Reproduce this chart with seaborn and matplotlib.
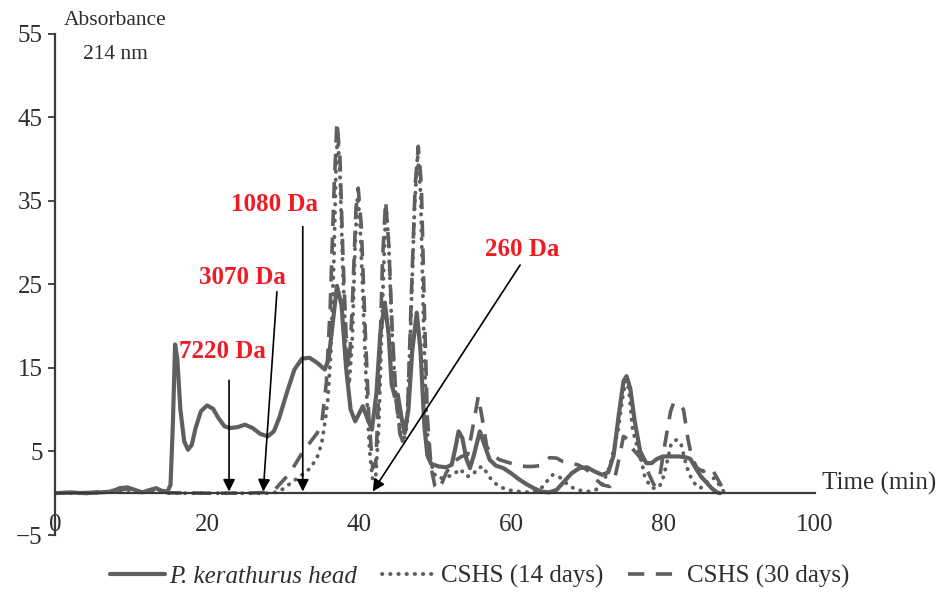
import numpy as np
import pandas as pd
import matplotlib
matplotlib.use("Agg")
import matplotlib.pyplot as plt
import seaborn as sns

# Chromatogram values (time in min, absorbance)
head_t = [0, 2, 4, 6, 7.5, 8.5, 9.5, 10.5, 11.5, 12.5, 13.3, 14, 14.8, 15.2, 15.5, 15.8, 16.1, 16.5,
          17, 17.5, 18, 18.5, 19.2, 20, 20.8, 21.5, 22.3, 23, 24, 25, 26, 27, 28, 28.8, 29.5, 30.5,
          31.5, 32.5, 33.5, 34.5, 35.5, 36, 36.5, 37.1, 37.7, 38.3, 38.9, 39.5, 40, 40.5, 41, 41.7,
          42.3, 42.8, 43.4, 43.9, 44.3, 44.7, 45.1, 45.6, 46, 46.5, 47, 47.6, 48.1, 48.6, 49, 49.5,
          50.5, 51.5, 52.2, 52.7, 53.1, 53.6, 54.1, 54.6, 55.1, 55.9, 56.5, 57.2, 58, 59, 60, 61,
          62, 63, 64, 65, 66, 67, 68, 69, 70, 71, 72, 72.8, 73.5, 74.2, 74.8, 75.2, 75.7, 76.3, 77,
          77.8, 78.5, 79.2, 80, 81, 82, 83, 83.6, 84.3, 85, 85.7, 86.4, 87.1, 87.5]
head_a = [0, 0.1, 0, 0.1, 0.2, 0.6, 0.7, 0.4, 0.1, 0.4, 0.6, 0.3, 0.2, 1, 8, 17.8, 16, 10,
          6.2, 5.2, 5.8, 7.8, 9.8, 10.5, 10.1, 9, 8.0, 7.8, 7.9, 8.2, 7.8, 7.1, 6.8, 7.4, 9, 12,
          14.8, 16.1, 16.2, 15.6, 14.8, 16, 20, 24.8, 22.5, 15, 10, 8.6, 9.5, 10.4, 9.2, 7.6,
          12, 19, 22.8, 19, 13, 11.6, 11.8, 9, 7.2, 10, 17, 21.6, 17, 8, 4.5, 3.5,
          3.2, 3.1, 3.4, 5.5, 7.4, 6.6, 4.2, 3.0, 4.5, 7.4, 5.8, 4.0, 3.3, 3.0, 2.4, 1.7,
          1.1, 0.6, 0.2, 0.1, 0.4, 1.4, 2.4, 3.0, 3.1, 2.6, 2.2, 2.5, 4.5, 9.5, 13.4, 14.0, 12.5, 8.5, 5,
          3.6, 3.6, 4.1, 4.4, 4.4, 4.4, 4.3, 4.1, 3.0, 2.0, 1.3, 0.6, 0.1, 0]

d14_t = [0, 5, 8.5, 9.5, 11, 13, 15, 20, 25, 28, 29, 30, 31.3, 32.5, 33.6, 34.5, 35.1, 35.6, 35.9,
         36.3, 36.7, 37.0, 37.2, 37.5, 37.9, 38.3, 38.7, 39.1, 39.5, 39.8, 40.1, 40.5, 41, 41.4,
         41.8, 42.2, 42.6, 43, 43.4, 43.6, 43.9, 44.3, 44.8, 45.3, 45.8, 46.3, 46.8, 47.3, 47.7,
         48.1, 48.5, 48.9, 49.3, 49.8, 50.2, 51, 52.4, 53.3, 54.2, 55, 55.6, 56.3, 56.9, 57.6,
         58.5, 59.5, 61, 62.5, 63.5, 64.2, 64.7, 65.5, 66.3, 67, 67.8, 68.7, 70, 71, 72, 73, 74.1,
         74.7, 75.1, 75.5, 76, 77.3, 77.6, 78.2, 78.7, 79.5, 80, 80.5, 81.1, 81.8, 82.4, 83.1,
         83.8, 84.4, 84.9, 85.5, 86.2, 86.8, 87.4, 88]
d14_a = [0, 0, 0.3, 0.4, 0.1, 0.3, 0, 0, 0, 0, 0.1, 0.5, 1.4, 2.2, 3.0, 4.3, 6, 9, 11.2,
         17, 28, 40, 43, 38, 26, 17, 13, 18, 30, 35.5, 33, 24, 12, 5,
         1.6, 2, 8, 20, 31, 34, 30, 20, 12, 8, 6, 8, 20, 34, 40.5,
         36, 20, 8, 4.4, 2.5, 1.9, 1.8, 2.2, 2.9, 2.0, 2.2, 3.0, 3.2, 2.3, 1.4,
         0.8, 0.4, 0.2, 0.1, 0.3, 0.8, 1.4, 2.2, 2.0, 1.4, 0.8, 0.4, 0.2, 0.3, 1.0, 3.2, 7.6,
         11.5, 13.5, 12.5, 7.6, 3.3, 2, 1.0, 0.6, 0.7, 1.8, 3.6, 6, 6.4, 5.8, 3.2,
         1.6, 0.9, 0.6, 1.0, 1.7, 1.8, 1.0, 0.2]

d30_t = [0, 5, 8.5, 9.5, 11, 13, 15, 20, 25, 28, 29, 30.5, 31.5, 32.5, 33.5, 34.5, 35.1, 35.7,
         36.2, 36.7, 37.1, 37.5, 37.9, 38.3, 38.7, 39.1, 39.6, 39.9, 40.3, 40.8, 41.3, 41.8, 42.2,
         42.6, 43.1, 43.5, 43.9, 44.4, 44.9, 45.4, 45.9, 46.4, 46.9, 47.4, 47.8, 48.2, 48.6, 49,
         49.5, 50, 50.4, 50.9, 51.5, 52.5, 53.5, 54.3, 55, 55.7, 56.3, 56.8, 57.5, 58.5, 59.9, 61,
         62, 62.9, 63.8, 64.5, 65.1, 66, 66.8, 67.8, 68.8, 70, 71, 72, 73, 73.7, 74.3, 74.8, 75.3,
         75.9, 76.5, 77.2, 78, 78.8, 79.5, 80, 80.5, 81, 81.4, 82, 82.7, 83.3, 83.8, 84.5, 85.3,
         86, 86.4, 87, 87.5, 88]
d30_a = [0, 0.1, 0.4, 0.5, 0.1, 0.3, 0.05, 0, 0, 0.1, 0.5, 2.0, 3.3, 4.8, 6, 7.2, 8.4, 13.2,
         22, 36, 44.5, 40, 28, 19, 15, 22, 34, 36.5, 32, 20, 9, 3, 3.5,
         12, 28, 35, 30, 19, 11, 7, 6, 10, 24, 37, 41.5, 37, 22, 9,
         3, 0.8, 0.4, 1.2, 2.5, 3.8, 4.4, 4.6, 8, 11.6, 8.5, 5.6, 4.6, 4.0, 3.6, 3.3,
         3.2, 3.2, 3.3, 3.9, 4.25, 4.2, 3.8, 3.6, 3.4, 2.8, 1.8, 1.0, 0.8, 2, 4.5, 6.8, 6.5,
         5.4, 4.8, 4.0, 2.6, 1.0, 1.5, 4.5, 7.2, 9.8, 10.8, 10.8, 10, 6.4, 4.2, 3, 2.6,
         3.0, 3.0, 2, 1.2, 0.3]

series_labels = ["P. kerathurus head", "CSHS (14 days)", "CSHS (30 days)"]

# molecular weight markers: label, text position, arrow start, arrow end
mw_labels = ["7220 Da", "3070 Da", "1080 Da", "260 Da"]
mw_text_xy = [(22.0, 16.9), (24.6, 25.8), (28.9, 34.5), (61.5, 29.1)]
mw_arrow_from = [(22.9, 13.5), (29.2, 24.1), (32.6, 31.9), (61.2, 27.3)]
mw_arrow_to = [(22.9, 0.2), (27.4, 0.2), (32.6, 0.2), (41.8, 0.2)]

sns.set_style("white")
plt.rcParams["font.family"] = ["Liberation Serif", "DejaVu Serif"]

line_color = "#5f5f5f"
axis_color = "#3a3a3a"
text_color = "#2e2e2e"

fig = plt.figure(figsize=(9.41, 5.92), dpi=100)
ax = fig.add_axes([55 / 941, 57 / 592, 760 / 941, 501.5 / 592])

sns.lineplot(x=head_t, y=head_a, ax=ax, color=line_color, linewidth=3.0,
             label=series_labels[0], estimator=None, sort=False)
sns.lineplot(x=d14_t, y=d14_a, ax=ax, color=line_color, linewidth=2.8,
             linestyle=(0, (0.1, 2.0)), dash_capstyle="round",
             label=series_labels[1], estimator=None, sort=False)
sns.lineplot(x=d30_t, y=d30_a, ax=ax, color=line_color, linewidth=2.6,
             linestyle=(0, (4.5, 3.2)),
             label=series_labels[2], estimator=None, sort=False)

ax.set_xlim(0, 100)
ax.set_ylim(-5, 55)
ax.set_xlabel("")
ax.set_ylabel("")

for side in ["top", "right"]:
    ax.spines[side].set_visible(False)
ax.spines["bottom"].set_position(("data", 0))
for side in ["left", "bottom"]:
    ax.spines[side].set_color(axis_color)
    ax.spines[side].set_linewidth(1.6)

ax.set_xticks(np.arange(0, 101, 20))
ax.set_xticks([v for v in range(5, 100, 5) if v % 20 != 0], minor=True)
ax.set_yticks(np.arange(-5, 56, 10))
ax.tick_params(axis="x", which="major", direction="inout", length=10, width=1.3,
               color=axis_color, labelsize=18, labelcolor=text_color, pad=10)
ax.tick_params(axis="x", which="minor", direction="in", length=4, width=1.1,
               color=axis_color)
ax.tick_params(axis="y", which="major", direction="out", length=5, width=1.3,
               color=axis_color, labelsize=18, labelcolor=text_color, pad=4, left=True)

ax.text(7.9, 56.6, "Absorbance", ha="center", va="center", fontsize=15.5,
        color=text_color, clip_on=False)
ax.text(7.9, 52.5, "214 nm", ha="center", va="center", fontsize=15.5,
        color=text_color, clip_on=False)
ax.text(100.9, 1.2, "Time (min)", ha="left", va="center", fontsize=18,
        color=text_color, clip_on=False)

for lab, txy, a0, a1 in zip(mw_labels, mw_text_xy, mw_arrow_from, mw_arrow_to):
    ax.text(txy[0], txy[1], lab, ha="center", va="center", fontsize=18,
            fontweight="bold", color="#ee1c24")
    ax.annotate("", xy=a1, xytext=a0,
                arrowprops=dict(arrowstyle="-|>", color="black", lw=1.2,
                                mutation_scale=18, shrinkA=0, shrinkB=0))

leg = ax.legend(loc="center", bbox_to_anchor=(0.51, 0.026), bbox_transform=fig.transFigure,
                ncol=3, frameon=False, fontsize=18, handlelength=2.2,
                handletextpad=0.15, columnspacing=1.0)
leg.get_texts()[0].set_fontstyle("italic")
for t in leg.get_texts():
    t.set_color(text_color)

fig.savefig("out.png", dpi=100)
